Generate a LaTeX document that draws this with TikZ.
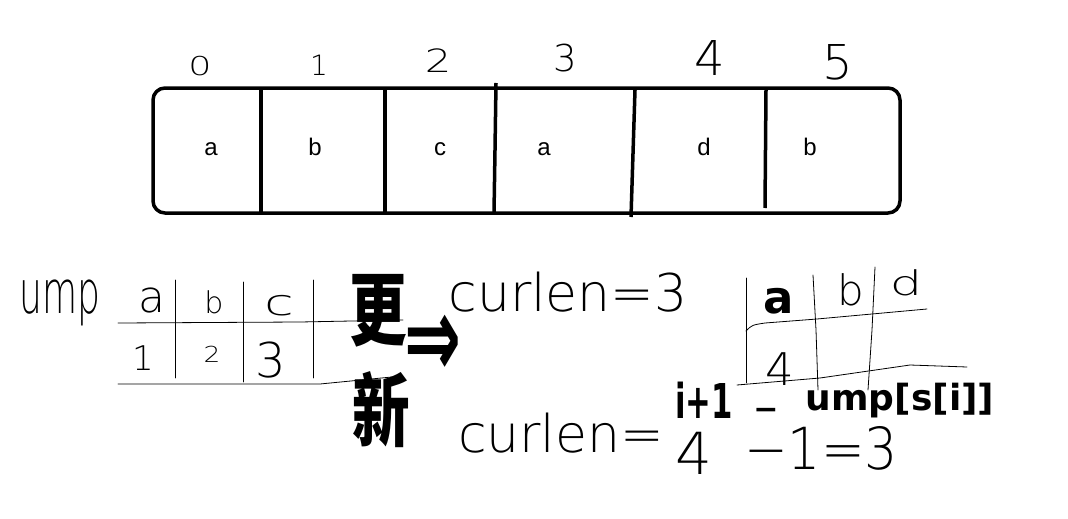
\documentclass[tikz,border=0pt]{standalone}
\usepackage{fontspec}
\newfontfamily\handfont{DejaVu Sans ExtraLight}
\newfontfamily\boldhand{DejaVu Sans Bold}
\newfontfamily\cellfont{Liberation Sans}
\newfontfamily\cjkfont{Noto Sans CJK SC}

\tikzset{
  cell/.style={font=\cellfont\fontsize{24}{24}\selectfont, inner sep=0pt, anchor=base},
  hand/.style={font=\handfont\fontsize{#1}{#1}\selectfont, inner sep=0pt, anchor=base},
  bhand/.style={font=\boldhand\fontsize{#1}{#1}\selectfont, inner sep=0pt, anchor=base},
  big/.style={font=\cjkfont\bfseries\fontsize{80}{80}\selectfont, inner sep=0pt},
  grid/.style={line width=0.8pt, line cap=round, line join=round}
}

\begin{document}
\begin{tikzpicture}[x=1pt,y=-1pt]
  \useasboundingbox (0,0) rectangle (1068,519);

  \begin{scope}[line width=3.5pt]
    \draw[rounded corners=12pt] (153,88) rectangle (900,213);
    \draw (261,88) -- (261,213);
    \draw (385,88) -- (385,213);
    \draw (496,83) -- (495,150) -- (494,213);
    \draw (635,90) -- (631,217);
    \draw (766,90) -- (765,208);
  \end{scope}

  \begin{scope}[every node/.style={cell}]
    \node (s0) at (211,155) {a};
    \node (s1) at (315,155) {b};
    \node (s2) at (440,155) {c};
    \node (s3) at (544,155) {a};
    \node (s4) at (704,155) {d};
    \node (s5) at (810,155) {b};
  \end{scope}

  \node[hand=26] (i0) at (200,75) {\scalebox{1.4}[1]{0}};
  \node[hand=28] (i1) at (319,75) {1};
  \node[hand=32] (i2) at (438,73) {\scalebox{1.3}[1]{2}};
  \node[hand=37] (i3) at (565,72) {3};
  \node[hand=48] (i4) at (710,75) {4};
  \node[hand=48] (i5) at (838,79) {5};

  % left table
  \node[hand=60] (ump) at (60,313) {\scalebox{0.6}[1]{ump}};
  \node[hand=44] (ka) at (152,312) {a};
  \node[hand=30] (kb) at (214,313) {b};
  \node[hand=36] (kc) at (279,315) {\scalebox{1.5}[1]{c}};
  \node[hand=34] (va) at (143,370) {1};
  \node[hand=22] (vb) at (212,362) {\scalebox{1.2}[1]{2}};
  \node[hand=48] (vc) at (271,377) {3};
  \begin{scope}[grid]
    \draw (175,280) -- (175,378);
    \draw (243,282) -- (243,382);
    \draw (313,280) -- (313,378);
    \draw (118,323) -- (300,322) -- (403,320);
    \draw (118,384) -- (320,384) -- (402,376);
  \end{scope}

  \node[big] (geng) at (378,311) {\scalebox{0.72}[1]{更}};
  \node[big] (xin) at (381,410) {\scalebox{0.72}[1]{新}};
  \node[bhand=68, anchor=center] (imp) at (433,346) {\scalebox{1}[1.7]{⇒}};

  \node[hand=52] (len1) at (568,311) {curlen=3};

  % right table
  \node[bhand=45] (na) at (779,313) {a};
  \node[hand=42] (nb) at (851,305) {b};
  \node[hand=34] (nd) at (906,295) {\scalebox{1.5}[1]{d}};
  \node[hand=45] (nv) at (780,385) {4};
  \begin{scope}[grid]
    \draw (746,278) -- (746,383);
    \draw (813,275) -- (816,330) -- (818,390);
    \draw (875,267) -- (872,330) -- (868,390);
    \draw (746,331) .. controls (752,325) .. (765,323) -- (817,319) -- (927,309);
    \draw (737,385) -- (820,378) -- (910,365) -- (967,367);
  \end{scope}

  \node[hand=52] (len2) at (561,452) {curlen=};
  \node[hand=58] (four) at (694,474) {4};
  \node[bhand=48] (ip) at (704,418) {\scalebox{0.64}[1]{i+1}};
  \node[bhand=30] (minus) at (766,419) {−};
  \node[bhand=36] (ump2) at (900,410) {ump[s[i]]};
  \node[hand=58] (rest) at (821,469) {\scalebox{0.9}[1]{−1=3}};
\end{tikzpicture}
\end{document}
